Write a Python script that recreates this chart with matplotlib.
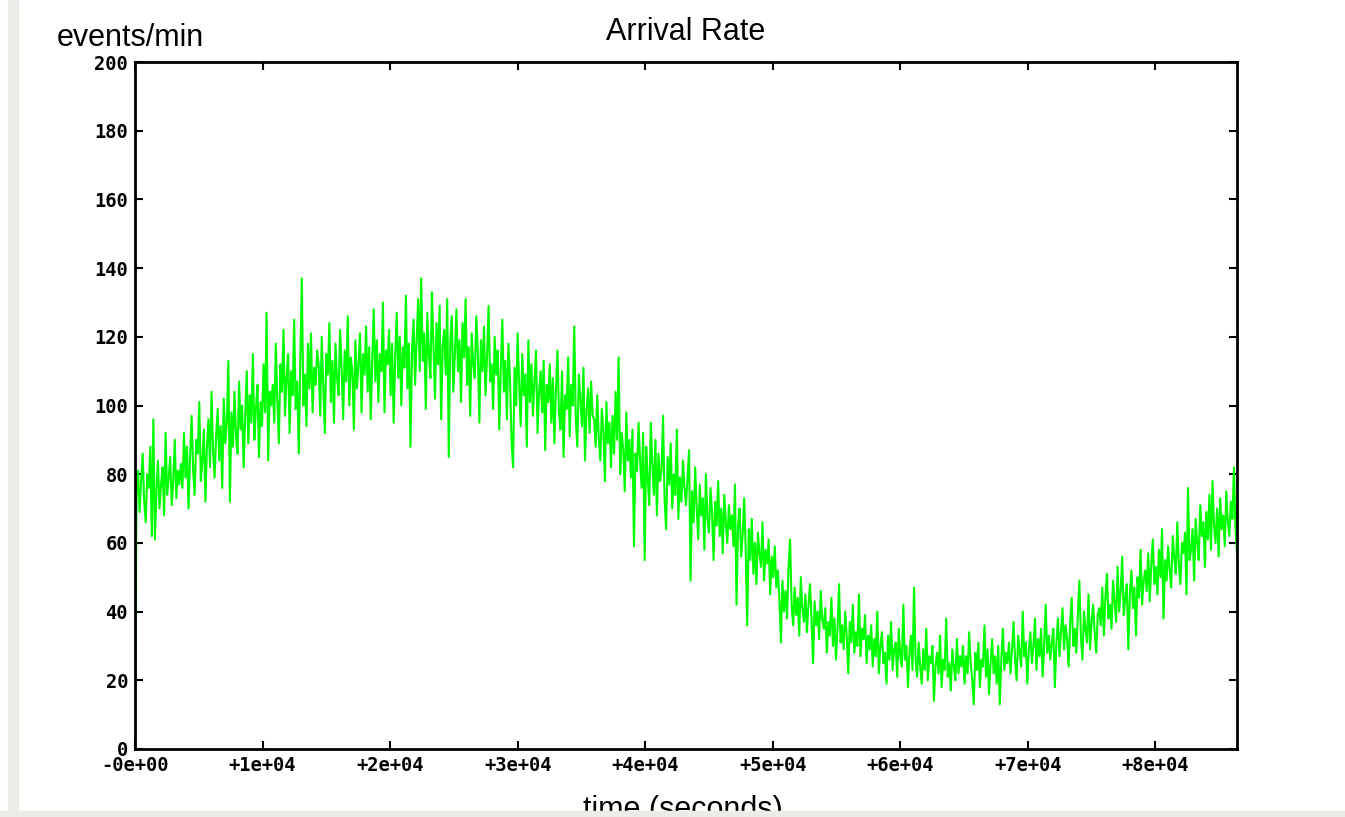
import numpy as np
import matplotlib
matplotlib.use("Agg")
import matplotlib.pyplot as plt
from matplotlib.patches import Rectangle

# events per minute, one sample every 120 s over one day (30 per hour)
step_s = 120
rate = [
    0, 74, 81, 69, 78, 86, 72, 66, 80, 76, 88, 62, 96, 61, 75, 84, 70, 77, 82, 68,
    92, 74, 79, 85, 71, 78, 90, 73, 81, 77,                                              # h0
    83, 76, 92, 79, 88, 70, 85, 97, 81, 74, 90, 86, 101, 78, 84, 93, 72, 88, 96, 82,
    104, 87, 79, 91, 99, 84, 94, 76, 102, 89,                                            # h1
    95, 113, 72, 98, 88, 104, 91, 86, 107, 93, 100, 82, 97, 110, 89, 103, 95, 115, 90, 99,
    106, 85, 101, 94, 112, 98, 127, 84, 104, 100,                                        # h2
    106, 95, 118, 101, 89, 112, 104, 122, 97, 108, 115, 92, 110, 103, 125, 99, 107, 86, 113, 137,
    100, 109, 94, 118, 105, 121, 98, 111, 106, 116,                                      # h3
    112, 97, 120, 106, 92, 115, 109, 124, 101, 113, 95, 118, 108, 103, 122, 111, 96, 116, 107, 126,
    100, 114, 110, 93, 119, 105, 112, 121, 98, 115,                                      # h4
    109, 123, 104, 117, 96, 113, 128, 107, 119, 101, 115, 110, 130, 98, 116, 112, 122, 103, 118, 95,
    114, 127, 108, 120, 100, 117, 111, 132, 105, 118,                                    # h5
    88, 116, 125, 106, 119, 131, 110, 137, 113, 121, 99, 127, 115, 108, 133, 118, 102, 124, 112, 129,
    96, 117, 122, 109, 131, 85, 119, 126, 104, 115,                                      # h6
    128, 110, 119, 101, 124, 114, 131, 106, 117, 97, 121, 112, 108, 126, 115, 95, 119, 110, 123, 103,
    114, 129, 107, 112, 99, 120, 109, 116, 93, 111,                                      # h7
    125, 104, 113, 96, 118, 108, 90, 82, 111, 100, 121, 106, 94, 115, 103, 109, 88, 119, 101, 112,
    97, 107, 116, 92, 104, 110, 98, 113, 87, 106,                                        # h8
    101, 112, 95, 108, 89, 104, 116, 98, 93, 110, 85, 103, 99, 114, 91, 106, 100, 123, 96, 88,
    109, 102, 94, 111, 84, 98, 105, 92, 107, 97,                                         # h9
    96, 88, 103, 91, 84, 99, 93, 78, 101, 89, 95, 82, 97, 86, 104, 90, 114, 80, 92, 87,
    75, 98, 84, 90, 79, 93, 59, 86, 81, 95,                                              # h10
    84, 76, 92, 55, 88, 79, 71, 95, 83, 74, 90, 68, 86, 78, 81, 97, 73, 64, 85, 77,
    89, 70, 80, 74, 93, 67, 79, 72, 84, 76,                                              # h11
    71, 79, 87, 49, 75, 66, 82, 70, 61, 77, 68, 73, 58, 80, 67, 63, 76, 69, 55, 72,
    65, 78, 62, 70, 57, 74, 66, 60, 71, 64,                                              # h12
    68, 59, 77, 42, 65, 70, 56, 62, 73, 58, 36, 64, 55, 67, 51, 60, 48, 63, 57, 53,
    66, 49, 58, 54, 61, 45, 56, 50, 59, 47,                                              # h13
    52, 44, 31, 49, 40, 46, 38, 53, 61, 42, 36, 47, 39, 44, 33, 50, 41, 37, 45, 34,
    42, 48, 38, 25, 43, 36, 40, 32, 46, 38,                                              # h14
    35, 41, 28, 37, 33, 44, 30, 38, 26, 35, 48, 31, 36, 29, 40, 33, 22, 37, 31, 42,
    28, 34, 30, 45, 27, 35, 32, 39, 25, 33,                                              # h15
    29, 36, 24, 32, 27, 40, 22, 30, 34, 25, 28, 19, 33, 26, 37, 23, 29, 31, 21, 35,
    27, 24, 42, 26, 30, 18, 28, 33, 23, 47,                                              # h16
    26, 21, 31, 24, 19, 29, 23, 35, 20, 27, 25, 30, 14, 24, 28, 22, 33, 18, 26, 23,
    38, 21, 25, 17, 29, 24, 20, 32, 22, 27,                                              # h17
    24, 30, 19, 27, 22, 34, 25, 20, 13, 28, 23, 31, 18, 26, 24, 36, 21, 29, 16, 25,
    32, 22, 27, 19, 30, 13, 26, 35, 23, 28,                                              # h18
    25, 31, 22, 29, 37, 26, 20, 33, 28, 24, 40, 27, 31, 19, 29, 34, 25, 30, 38, 23,
    32, 27, 35, 21, 30, 42, 28, 33, 26, 31,                                              # h19
    35, 18, 31, 38, 27, 34, 41, 29, 36, 32, 24, 37, 44, 30, 35, 28, 39, 49, 33, 26,
    40, 35, 31, 45, 29, 37, 42, 34, 28, 39,                                              # h20
    41, 36, 47, 33, 44, 51, 38, 42, 35, 49, 43, 37, 53, 40, 46, 56, 39, 44, 48, 29,
    45, 52, 41, 47, 33, 50, 44, 58, 42, 49,                                              # h21
    52, 46, 57, 43, 54, 61, 48, 53, 45, 58, 50, 64, 38, 55, 49, 59, 52, 47, 62, 56,
    51, 66, 54, 48, 60, 57, 63, 45, 76, 55,                                              # h22
    58, 64, 49, 67, 60, 55, 71, 62, 66, 53, 69, 61, 74, 58, 78, 65, 60, 70, 56, 73,
    64, 68, 59, 75, 66, 62, 72, 67, 82, 64,                                              # h23
    57,
]

x_ticks = [0, 10000, 20000, 30000, 40000, 50000, 60000, 70000, 80000]
x_tick_labels = ["-0e+00", "+1e+04", "+2e+04", "+3e+04", "+4e+04",
                 "+5e+04", "+6e+04", "+7e+04", "+8e+04"]
y_ticks = [0, 20, 40, 60, 80, 100, 120, 140, 160, 180, 200]

t = np.arange(len(rate)) * step_s

fig = plt.figure(figsize=(13.45, 8.17), dpi=100)
ax = fig.add_axes([135 / 1345, 68 / 817, 1102 / 1345, 687 / 817])
ax.plot(t, rate, color="#00ff00", lw=1.5)

ax.set_xlim(0, 86400)
ax.set_ylim(0, 200)
ax.set_xticks(x_ticks)
ax.set_xticklabels(x_tick_labels)
ax.set_yticks(y_ticks)

for lab in ax.get_xticklabels() + ax.get_yticklabels():
    lab.set_fontfamily("DejaVu Sans Mono")
    lab.set_fontweight("bold")
    lab.set_fontsize(13.5)

ax.tick_params(direction="in", length=6, width=1.5, top=True, right=True, pad=5)
for s in ax.spines.values():
    s.set_linewidth(2)

ax.set_title("Arrival Rate", fontsize=22, family="Liberation Sans", pad=16)
fig.text(57 / 1345, 1 - 46 / 817, "events/min", fontsize=22, family="Liberation Sans")
# the x label sits partly below the window edge in the original screenshot
fig.text(0.508, 1 - 818 / 817, "time (seconds)", fontsize=22, family="Liberation Sans",
         ha="center", va="baseline")

# window frame strips at the left and bottom edges
fig.patches.append(Rectangle((8 / 1345, 0), 10 / 1345, 1, transform=fig.transFigure,
                             color="#ecebe6", zorder=5))
fig.patches.append(Rectangle((0, 0), 1, 6 / 817, transform=fig.transFigure,
                             color="#ecebe6", zorder=5))

fig.savefig("out.png", dpi=100)
